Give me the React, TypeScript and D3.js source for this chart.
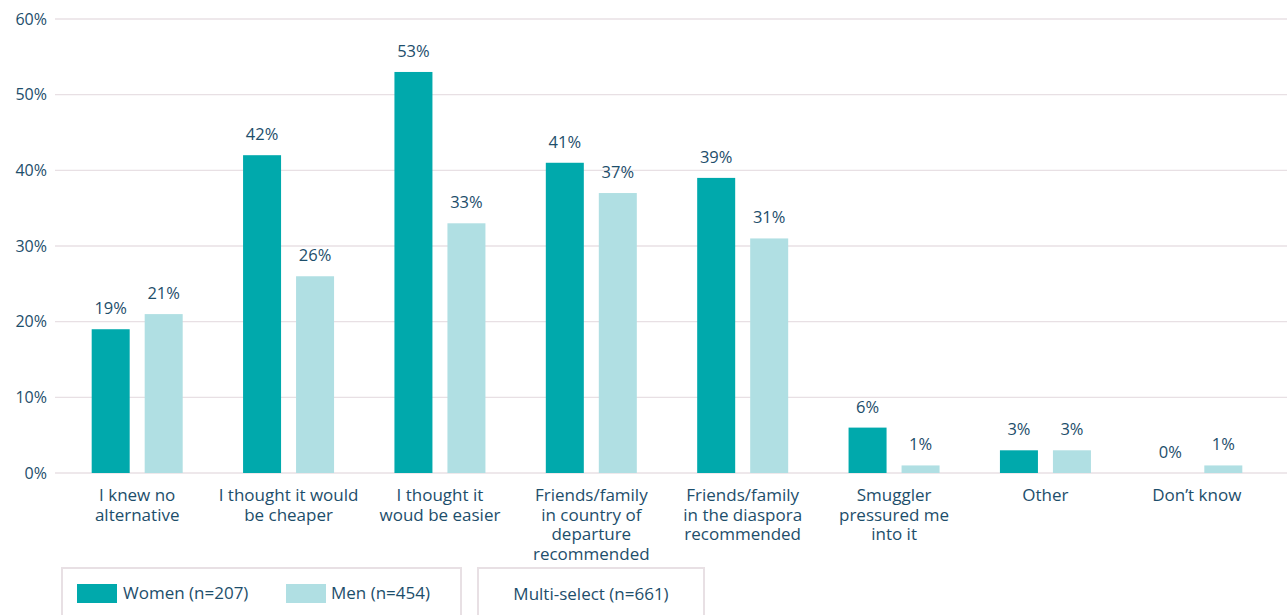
import React from "react";
import * as d3 from "d3";

const categories: string[][] = [
  ["I knew no", "alternative"],
  ["I thought it would", "be cheaper"],
  ["I thought it", "woud be easier"],
  ["Friends/family", "in country of", "departure", "recommended"],
  ["Friends/family", "in the diaspora", "recommended"],
  ["Smuggler", "pressured me", "into it"],
  ["Other"],
  ["Don\u2019t know"],
];
const women = [19, 42, 53, 41, 39, 6, 3, 0];
const men = [21, 26, 33, 37, 31, 1, 3, 1];
const yTicks = [0, 10, 20, 30, 40, 50, 60];
const seriesNames = ["Women (n=207)", "Men (n=454)"];
const note = "Multi-select (n=661)";

const W = 1287;
const H = 615;
const FONT = "'Open Sans', sans-serif";
const TEXT = "#1d4e6b";
const C_W = "#00a9ac";
const C_M = "#b0dfe3";
const GRID = "#e8e0e4";

export default function App() {
  const x = d3.scaleBand<number>().domain(d3.range(categories.length)).range([61.5, 1272.5]);
  const y = d3.scaleLinear().domain([0, 60]).range([473, 19]);
  const barW = 38;
  const gap = 15;
  return (
    <svg width={W} height={H} style={{ position: "absolute", left: 0, top: 0, fontFamily: FONT }}>
      {yTicks.map((t) => (
        <g key={t}>
          <line x1={55} x2={1287} y1={y(t)} y2={y(t)} stroke={GRID} strokeWidth={1.3} />
          <text x={47} y={y(t)} dy="0.35em" textAnchor="end" fontSize={16} fill={TEXT}>
            {t}%
          </text>
        </g>
      ))}
      {categories.map((lines, i) => {
        const c = x(i)! + x.bandwidth() / 2;
        const xw = c - gap / 2 - barW;
        const xm = c + gap / 2;
        return (
          <g key={i}>
            <rect x={xw} y={y(women[i])} width={barW} height={y(0) - y(women[i])} fill={C_W} />
            <rect x={xm} y={y(men[i])} width={barW} height={y(0) - y(men[i])} fill={C_M} />
            <text x={xw + barW / 2} y={y(women[i]) - 15} textAnchor="middle" fontSize={16.5} fill={TEXT}>
              {women[i]}%
            </text>
            <text x={xm + barW / 2} y={y(men[i]) - 15} textAnchor="middle" fontSize={16.5} fill={TEXT}>
              {men[i]}%
            </text>
            {lines.map((l, j) => (
              <text key={j} x={c} y={501 + j * 19.5} textAnchor="middle" fontSize={17} fill={TEXT}>
                {l}
              </text>
            ))}
          </g>
        );
      })}
      <rect x={62} y={568} width={399} height={60} fill="none" stroke={GRID} strokeWidth={2} />
      <rect x={478} y={568} width={226} height={60} fill="none" stroke={GRID} strokeWidth={2} />
      <rect x={77} y={584} width={40} height={19} fill={C_W} />
      <text x={123} y={599} fontSize={17} fill={TEXT}>{seriesNames[0]}</text>
      <rect x={286} y={584} width={40} height={19} fill={C_M} />
      <text x={331} y={599} fontSize={17} fill={TEXT}>{seriesNames[1]}</text>
      <text x={591} y={600} textAnchor="middle" fontSize={17} fill={TEXT}>{note}</text>
    </svg>
  );
}
